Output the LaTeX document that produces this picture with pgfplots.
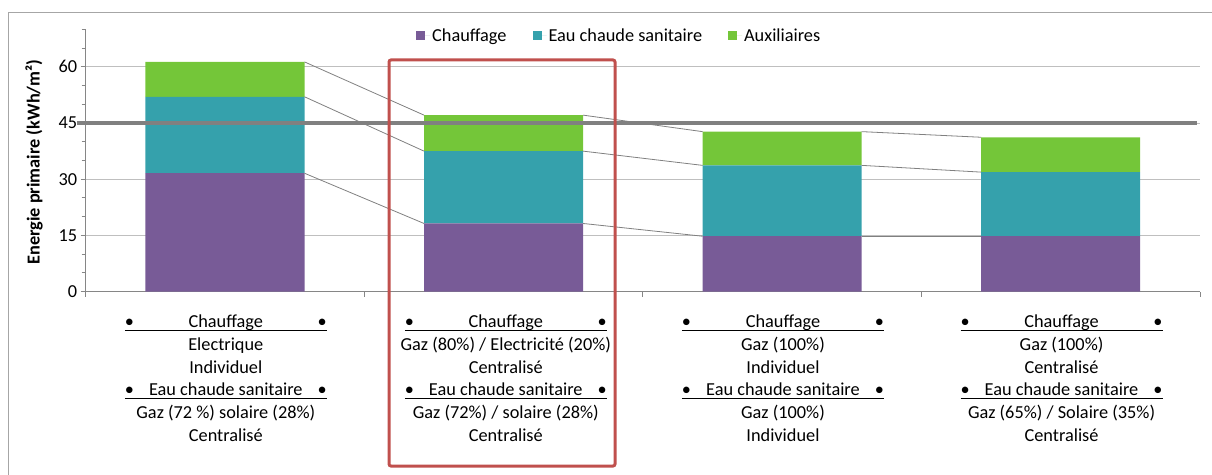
\documentclass[border=0pt]{standalone}
\usepackage{pgfplots}
\pgfplotsset{compat=1.18}
\usepackage{fontspec}
\setmainfont{Carlito}
\definecolor{cPurple}{HTML}{785B97}
\definecolor{cTeal}{HTML}{35A1AC}
\definecolor{cGreen}{HTML}{74C639}
\definecolor{cGrid}{HTML}{BFBFBF}
\definecolor{cAxis}{HTML}{868686}
\definecolor{cRed}{HTML}{C0504D}
\definecolor{cFrame}{HTML}{A6A6A6}
\definecolor{cSer}{HTML}{808080}
\newcommand\lblfont{\fontsize{18.3bp}{22.8bp}\selectfont}
\newcommand\hdr[1]{\rlap{\rule[-3bp]{202bp}{1bp}}\makebox[202bp]{\textbullet\hfill #1\hfill\textbullet}}
\newcommand\catlabel[4]{\lblfont\begin{tabular}[t]{@{}c@{}}\hdr{Chauffage}\\#1\\#2\\\hdr{Eau chaude sanitaire}\\#3\\#4\end{tabular}}
\begin{document}
\begin{tikzpicture}
\begin{axis}[
  scale only axis, width=1114.3bp, height=262.4bp,
  xmin=-0.5, xmax=3.5, ymin=0, ymax=70,
  axis x line*=bottom, axis y line*=left,
  axis line style={cAxis, line width=1bp, -},
  xtick={-0.5,0.5,1.5,2.5,3.5}, xticklabels={},
  ytick={0,15,30,45,60},
  minor ytick={5,10,20,25,35,40,50,55,65,70},
  tick align=outside, major tick length=5bp, minor tick length=4bp,
  tick style={cAxis, line width=1bp},
  ymajorgrids, grid style={cGrid, line width=1bp},
  yticklabel style={font=\lblfont, text=black},
  /pgf/number format/assume math mode=true,
  ylabel={Energie primaire (kWh/m²)},
  every axis y label/.style={at={(rel axis cs:-0.0464,0.494)}, anchor=center, rotate=90, font=\lblfont\bfseries},
  ybar stacked, bar width=0.571,
  clip=false,
  legend columns=3,
  legend cell align=left,
  legend image code/.code={\fill[#1,draw=none] (0bp,-4.5bp) rectangle (9bp,4.5bp);\path (9bp,0bp) -- (14bp,0bp);},
  legend style={draw=none, fill=none, at={(rel axis cs:0.2964,0.9756)}, anchor=west,
    font=\lblfont, inner sep=0pt,
    /tikz/every even column/.append style={column sep=24bp}},
]
\addplot[fill=cPurple, draw=none] coordinates {(0,31.6) (1,18.2) (2,14.8) (3,14.8)};
\addplot[fill=cTeal, draw=none] coordinates {(0,20.4) (1,19.3) (2,18.9) (3,17.1)};
\addplot[fill=cGreen, draw=none] coordinates {(0,9.3) (1,9.6) (2,9.0) (3,9.3)};
\legend{Chauffage, Eau chaude sanitaire, Auxiliaires}
\node[anchor=base, inner sep=0pt, yshift=-35.8bp] at (axis cs:0.003,0) {\catlabel{Electrique}{Individuel}{Gaz (72 \%) solaire (28\%)}{Centralisé}};
\node[anchor=base, inner sep=0pt, yshift=-35.8bp] at (axis cs:1.008,0) {\catlabel{Gaz (80\%) / Electricité (20\%)}{Centralisé}{Gaz (72\%) / solaire (28\%)}{Centralisé}};
\node[anchor=base, inner sep=0pt, yshift=-35.8bp] at (axis cs:2.003,0) {\catlabel{Gaz (100\%)}{Individuel}{Gaz (100\%)}{Individuel}};
\node[anchor=base, inner sep=0pt, yshift=-35.8bp] at (axis cs:3.003,0) {\catlabel{Gaz (100\%)}{Centralisé}{Gaz (65\%) / Solaire (35\%)}{Centralisé}};
\end{axis}
\begin{axis}[
  scale only axis, width=1114.3bp, height=262.4bp,
  xmin=-0.5, xmax=3.5, ymin=0, ymax=70,
  hide axis, clip=false,
]
% series lines (cumulative tops)
\addplot[cSer, line width=0.8bp] coordinates {(0.2855,31.6) (0.7145,18.2)};
\addplot[cSer, line width=0.8bp] coordinates {(1.2855,18.2) (1.7145,14.8)};
\addplot[cSer, line width=0.8bp] coordinates {(2.2855,14.8) (2.7145,14.8)};
\addplot[cSer, line width=0.8bp] coordinates {(0.2855,52.0) (0.7145,37.5)};
\addplot[cSer, line width=0.8bp] coordinates {(1.2855,37.5) (1.7145,33.7)};
\addplot[cSer, line width=0.8bp] coordinates {(2.2855,33.7) (2.7145,31.9)};
\addplot[cSer, line width=0.8bp] coordinates {(0.2855,61.3) (0.7145,47.1)};
\addplot[cSer, line width=0.8bp] coordinates {(1.2855,47.1) (1.7145,42.7)};
\addplot[cSer, line width=0.8bp] coordinates {(2.2855,42.7) (2.7145,41.2)};
% threshold line
\addplot[cSer, line width=4.3bp] coordinates {(-0.53,45) (3.49,45)};
\end{axis}
\draw[cRed, line width=3bp, rounded corners=2bp] (303.3bp,231.7bp) rectangle (529.3bp,-174.3bp);
\draw[cFrame, line width=1bp] (-77.4bp,-190bp) -- (-77.4bp,279.4bp) -- (1130bp,279.4bp);
\pgfresetboundingbox
\path[use as bounding box] (-85.7bp,-183.3bp) rectangle (1126.3bp,291.7bp);
\end{tikzpicture}
\end{document}
